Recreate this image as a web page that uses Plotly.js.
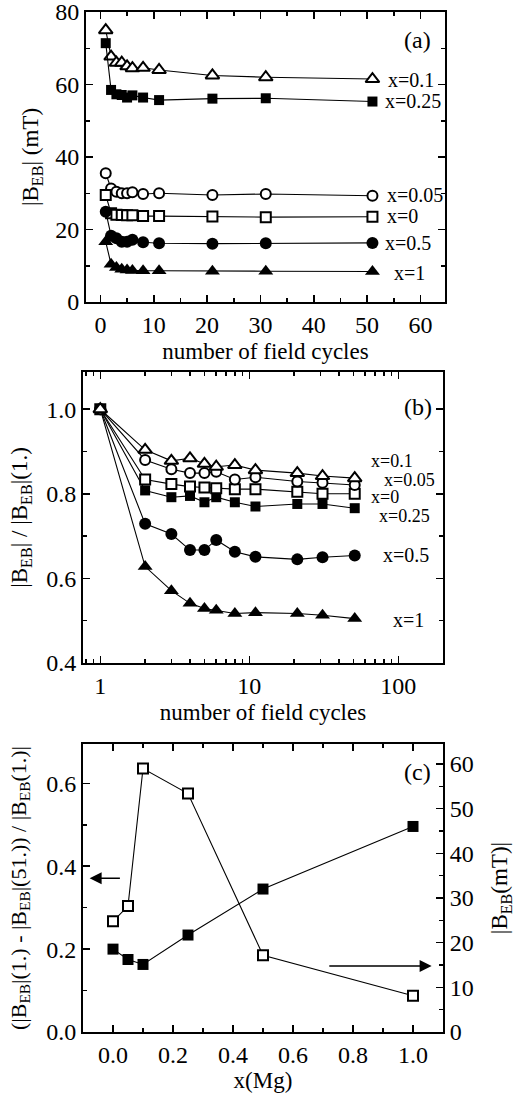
<!DOCTYPE html>
<html>
<head>
<meta charset="utf-8">
<script src="https://cdn.plot.ly/plotly-3.0.1.min.js"></script>
<style>html,body{margin:0;padding:0;background:#fff;}#chart{width:526px;height:1094px;}</style>
</head>
<body>
<div id="chart"></div>
<script>
// ---------- data ----------
const cycles = [1, 2, 3, 4, 5, 6, 8, 11, 21, 31, 51];

// panel (a): |B_EB| (mT)
const a_x01  = [75.0, 67.7, 66.0, 66.0, 65.0, 64.5, 64.6, 64.0, 62.5, 62.0, 61.5];
const a_x025 = [71.4, 58.5, 57.3, 57.1, 56.4, 57.0, 56.4, 55.7, 56.1, 56.2, 55.3];
const a_x005 = [35.5, 31.3, 30.4, 30.0, 30.0, 30.3, 29.8, 30.0, 29.5, 29.8, 29.3];
const a_x0   = [29.5, 24.5, 24.1, 24.0, 23.9, 23.9, 23.7, 23.7, 23.6, 23.4, 23.5];
const a_x05  = [24.9, 18.3, 17.6, 16.6, 16.6, 17.2, 16.5, 16.2, 16.1, 16.2, 16.3];
const a_x1   = [16.6, 10.4, 9.5, 9.0, 8.8, 8.7, 8.6, 8.6, 8.5, 8.5, 8.4];

// panel (b): |B_EB| / |B_EB|(1.)
const b_x01  = [1, 0.904, 0.878, 0.884, 0.871, 0.864, 0.868, 0.856, 0.849, 0.842, 0.837];
const b_x005 = [1, 0.880, 0.858, 0.849, 0.849, 0.852, 0.834, 0.839, 0.829, 0.826, 0.821];
const b_x0   = [1, 0.834, 0.823, 0.817, 0.815, 0.813, 0.811, 0.811, 0.805, 0.800, 0.800];
const b_x025 = [1, 0.808, 0.792, 0.795, 0.780, 0.792, 0.780, 0.770, 0.776, 0.776, 0.766];
const b_x05  = [1, 0.729, 0.705, 0.667, 0.667, 0.691, 0.663, 0.651, 0.645, 0.650, 0.654];
const b_x1   = [1, 0.628, 0.571, 0.541, 0.529, 0.525, 0.517, 0.519, 0.517, 0.513, 0.505];

// panel (c)
const xMg    = [0, 0.05, 0.1, 0.25, 0.5, 1.0];
const c_loss = [0.200, 0.175, 0.163, 0.234, 0.345, 0.496];
const c_beb  = [24.8, 28.2, 59.0, 53.4, 17.2, 8.1];

// labels
const seriesLabels = ["x=0.1", "x=0.25", "x=0.05", "x=0", "x=0.5", "x=1"];
const panelLabels = ["(a)", "(b)", "(c)"];
const xTitleA = "number of field cycles";
const xTitleC = "x(Mg)";
const yTitleA = "|B<sub>EB</sub>| (mT)";
const yTitleB = "|B<sub>EB</sub>| / |B<sub>EB</sub>|(1.)";
const yTitleC = "(|B<sub>EB</sub>|(1.) - |B<sub>EB</sub>|(51.)) / |B<sub>EB</sub>(1.)|";
const yTitleC2 = "|B<sub>EB</sub>(mT)|";

// ---------- style helpers ----------
const W = 526, H = 1094;
const FONT = "'Liberation Serif', 'Times New Roman', serif";
const fx = px => px / W;
const fy = py => 1 - py / H;

function mk(sym, open, size) {
  return open
    ? {symbol: sym, size: size, color: "white", line: {color: "black", width: 2}}
    : {symbol: sym, size: size, color: "black", line: {color: "black", width: 0}};
}
function tr(x, y, sym, open, size, xa, ya) {
  return {x: x, y: y, xaxis: xa, yaxis: ya, mode: "lines+markers", type: "scatter",
          line: {color: "black", width: 1.1}, marker: mk(sym, open, size),
          showlegend: false, hoverinfo: "skip", cliponaxis: false};
}

const traces = [
  tr(cycles, a_x01, "triangle-up", true, 12, "x", "y"),
  tr(cycles, a_x025, "square", false, 10, "x", "y"),
  tr(cycles, a_x005, "circle", true, 10, "x", "y"),
  tr(cycles, a_x0, "square", true, 10, "x", "y"),
  tr(cycles, a_x05, "circle", false, 12, "x", "y"),
  tr(cycles, a_x1, "triangle-up", false, 13, "x", "y"),

  tr(cycles, b_x1, "triangle-up", false, 13, "x2", "y2"),
  tr(cycles, b_x05, "circle", false, 12, "x2", "y2"),
  tr(cycles, b_x025, "square", false, 10, "x2", "y2"),
  tr(cycles, b_x0, "square", true, 10, "x2", "y2"),
  tr(cycles, b_x005, "circle", true, 10, "x2", "y2"),
  tr(cycles, b_x01, "triangle-up", true, 12, "x2", "y2"),

  tr(xMg, c_loss, "square", false, 11, "x3", "y3"),
  tr(xMg, c_beb, "square", true, 10, "x3", "y4")
];

const tickFont = {family: FONT, size: 24, color: "black"};
const titleFont = {family: FONT, size: 23, color: "black"};
function mn(d) {
  return {ticks: "inside", ticklen: 4, tickwidth: 1.5, tickcolor: "black", showgrid: false, dtick: d};
}
function ax(extra) {
  return Object.assign({
    showline: true, linecolor: "black", linewidth: 2, mirror: "ticks",
    ticks: "inside", ticklen: 7, tickwidth: 1.5, tickcolor: "black",
    showgrid: false, zeroline: false, tickfont: tickFont, ticklabeloverflow: "allow"
  }, extra);
}

const dA = [fx(86), fx(445)];
const dB = [fx(83), fx(443)];

const layout = {
  width: W, height: H,
  margin: {l: 0, r: 0, t: 0, b: 0},
  paper_bgcolor: "white", plot_bgcolor: "white",
  font: {family: FONT, color: "black"},
  showlegend: false,
  xaxis: ax({domain: dA, anchor: "y", range: [-2.7, 64.6], dtick: 10, tick0: 0, minor: mn(5),
             title: {text: xTitleA, font: titleFont, standoff: 6}}),
  yaxis: ax({domain: [fy(302), fy(12)], anchor: "x", range: [0, 80], dtick: 20, minor: mn(10),
             title: {text: yTitleA, font: titleFont, standoff: 10}}),
  xaxis2: ax({domain: dB, anchor: "y2", type: "log", range: [-0.116, 2.30],
              tickvals: [1, 10, 100], ticktext: ["1", "10", "100"],
              minor: {ticks: "inside", ticklen: 4, tickwidth: 1.5, tickcolor: "black", showgrid: false,
                      tickvals: [0.8, 0.9, 2, 3, 4, 5, 6, 7, 8, 9, 20, 30, 40, 50, 60, 70, 80, 90, 200]},
              title: {text: xTitleA, font: titleFont, standoff: 6}}),
  yaxis2: ax({domain: [fy(663), fy(372)], anchor: "x2", range: [0.4, 1.088], dtick: 0.2, tick0: 0.4,
              tickformat: ".1f", minor: mn(0.1),
              title: {text: yTitleB, font: titleFont, standoff: 12}}),
  xaxis3: ax({domain: dB, anchor: "y3", range: [-0.1, 1.1], dtick: 0.2, tick0: 0, tickformat: ".1f",
              minor: mn(0.1), title: {text: xTitleC, font: titleFont, standoff: 4}}),
  yaxis3: ax({domain: [fy(1032), fy(744)], anchor: "x3", range: [0, 0.695], dtick: 0.2, tick0: 0,
              tickformat: ".1f", mirror: false, minor: mn(0.1),
              title: {text: yTitleC, font: {family: FONT, size: 22, color: "black"}, standoff: 14}}),
  yaxis4: ax({overlaying: "y3", anchor: "x3", side: "right", range: [0, 64.5], dtick: 10, tick0: 0,
              mirror: false, minor: mn(5),
              title: {text: yTitleC2, font: titleFont, standoff: 18}}),
  annotations: []
};

function lab(text, px, py, size) {
  layout.annotations.push({text: text, xref: "paper", yref: "paper", x: fx(px), y: fy(py),
    xanchor: "left", yanchor: "middle", showarrow: false,
    font: {family: FONT, size: size || 20, color: "black"}});
}
// panel a labels
lab(seriesLabels[0], 386, 80);
lab(seriesLabels[1], 383, 101);
lab(seriesLabels[2], 385, 195);
lab(seriesLabels[3], 385, 216);
lab(seriesLabels[4], 383, 243);
lab(seriesLabels[5], 392, 273);
lab(panelLabels[0], 402, 40, 24);
// panel b labels
lab(seriesLabels[0], 369, 461, 18);
lab(seriesLabels[2], 382, 480, 18);
lab(seriesLabels[3], 369, 497, 18);
lab(seriesLabels[1], 377, 516, 18);
lab(seriesLabels[4], 381, 555);
lab(seriesLabels[5], 391, 620);
lab(panelLabels[1], 402, 407, 24);
// panel c label
lab(panelLabels[2], 402, 772, 24);

// arrows in panel c
layout.annotations.push({xref: "x3", yref: "y3", axref: "x3", ayref: "y3",
  x: -0.078, y: 0.371, ax: 0.028, ay: 0.371, text: "", showarrow: true,
  arrowhead: 2, arrowsize: 1.6, arrowwidth: 1.5, arrowcolor: "black"});
layout.annotations.push({xref: "x3", yref: "y3", axref: "x3", ayref: "y3",
  x: 1.062, y: 0.159, ax: 0.716, ay: 0.159, text: "", showarrow: true,
  arrowhead: 2, arrowsize: 1.6, arrowwidth: 1.5, arrowcolor: "black"});

Plotly.newPlot("chart", traces, layout, {staticPlot: true, displayModeBar: false});
</script>
</body>
</html>
